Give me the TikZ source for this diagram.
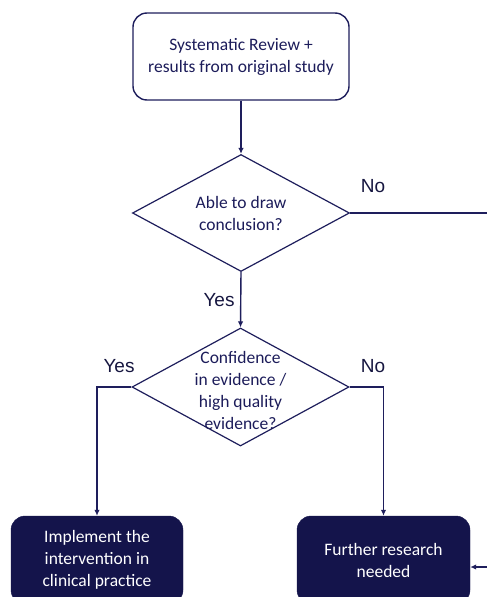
\documentclass[tikz,border=0pt]{standalone}
\usepackage{fontspec}
\setmainfont{Carlito}
\newfontfamily\labelfont{Liberation Sans}
\usetikzlibrary{shapes.geometric,arrows.meta}
\definecolor{navy}{HTML}{14144B}
\definecolor{navyline}{HTML}{1E1E5C}
\definecolor{navytext}{HTML}{1C1C5A}
\definecolor{labelcol}{HTML}{161640}
\begin{document}
\begin{tikzpicture}[x=1pt,y=-1pt,
  txt/.style={font=\fontsize{17.5}{22}\selectfont, align=center},
  whitebox/.style={draw=navyline, line width=1.4pt, fill=white, rounded corners=14pt,
    minimum width=216pt, minimum height=87pt, inner sep=0pt, txt, text=navytext},
  darkbox/.style={draw=navy, fill=navy, rounded corners=14pt,
    minimum width=172pt, minimum height=88pt, inner sep=0pt, txt, text=white},
  decision/.style={diamond, draw=navyline, line width=1.2pt, fill=white, inner sep=0pt,
    minimum width=217pt, minimum height=117pt},
  dtext/.style={txt, text=navytext, inner sep=0pt},
  lbl/.style={font=\labelfont\fontsize{19}{22}\selectfont, text=labelcol},
  conn/.style={draw=navyline, line width=1.4pt},
  arr/.style={conn, -{Latex[length=6pt,width=5.5pt]}}
]
\useasboundingbox (0,0) rectangle (487,597);
\clip (0,0) rectangle (487,597);

\node[whitebox] (top) at (241,56.5) {Systematic Review +\\results from original study};
\node[decision, label={[dtext]center:{Able to draw\\conclusion?}}] (d1) at (241,213) {};
\node[decision, minimum height=118pt, label={[dtext, yshift=-3pt]center:{Confidence\\in evidence /\\high quality\\evidence?}}] (d2) at (240.5,387) {};
\node[darkbox] (b1) at (97,560) {Implement the\\intervention in\\clinical practice};
\node[darkbox, minimum width=173pt] (b2) at (383.5,560) {Further research\\needed};

\node[lbl] (no1) at (373,186) {No};
\node[lbl] (yes1) at (219,300) {Yes};
\node[lbl] (yes2) at (119,366) {Yes};
\node[lbl] (no2) at (373,366) {No};

\coordinate (rt) at (500,213);
\coordinate (rb) at (500,567);

\draw[arr] (top.south) -- (d1.north);
\draw[arr] (d1.south) -- (d2.north);
\draw[arr] (d2.west) -| (b1.north);
\draw[arr] (d2.east) -| (b2.north);
\draw[conn] (d1.east) -- (rt) -- (rb);
\draw[arr] (rb) -- (rb -| b2.east);
\end{tikzpicture}
\end{document}
